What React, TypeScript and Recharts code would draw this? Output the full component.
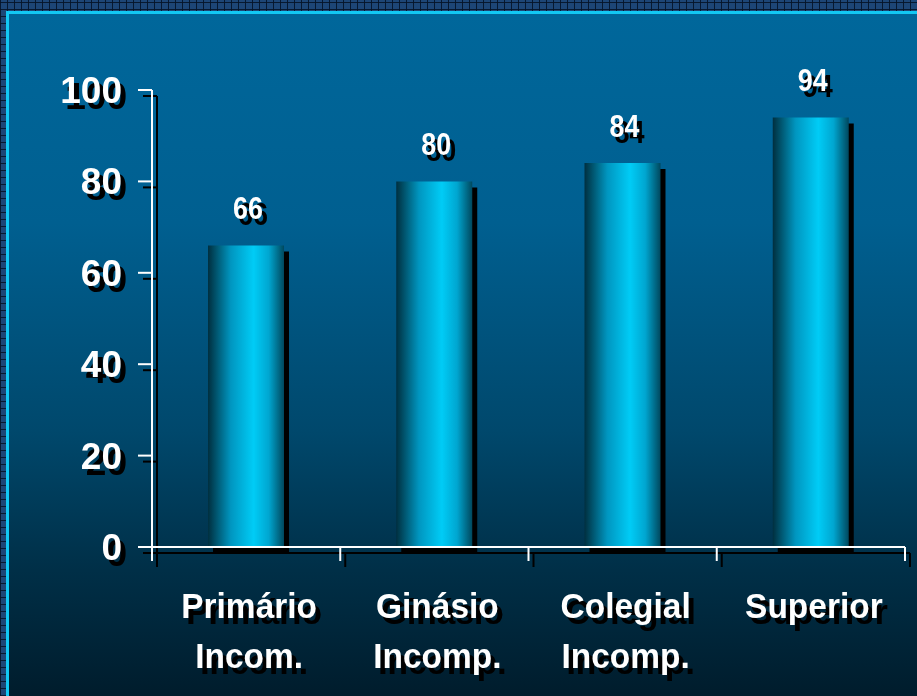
import React from "react";
import { BarChart, Bar, XAxis, YAxis, LabelList } from "recharts";

const categories = ["Primário", "Ginásio", "Colegial", "Superior"];
const categoryLine2 = ["Incom.", "Incomp.", "Incomp.", ""];
const values = [66, 80, 84, 94];
const yTicks = [0, 20, 40, 60, 80, 100];

const data = categories.map((c, i) => ({ name: c, sub: categoryLine2[i], value: values[i] }));

const FONT = "'Liberation Sans', Arial, sans-serif";

function CategoryTick(props: any) {
    const { x, y, payload, index } = props;
    const half = payload?.offset || 94;
    const last = index === data.length - 1;
    const row = data[index] || { name: payload.value, sub: "" };
    return (
        <g>
            <line x1={x - half} x2={x - half} y1={y} y2={y + 14} stroke="#fff" strokeWidth={2} />
            {last && <line x1={x + half} x2={x + half} y1={y} y2={y + 14} stroke="#fff" strokeWidth={2} />}
            <g transform={`translate(${x + 3},${y + 71}) scale(0.93,1)`}>
                <text x={0} y={0} textAnchor="middle" fill="#fff" fontSize={36} fontWeight="bold" fontFamily={FONT}>
                    {row.name}
                </text>
                {row.sub && (
                    <text x={0} y={50} textAnchor="middle" fill="#fff" fontSize={36} fontWeight="bold" fontFamily={FONT}>
                        {row.sub}
                    </text>
                )}
            </g>
        </g>
    );
}

function YTick(props: any) {
    const { x, y, payload } = props;
    return (
        <text x={x} y={y + 13} textAnchor="end" fill="#fff" fontSize={37} fontWeight="bold" fontFamily={FONT}>
            {payload.value}
        </text>
    );
}

function ValueLabel(props: any) {
    const { x, y, width, value } = props;
    return (
        <g transform={`translate(${x + width / 2 + 2},${y - 26}) scale(0.84,1)`}>
            <text x={0} y={0} textAnchor="middle" fill="#fff" fontSize={32} fontWeight="bold" fontFamily={FONT}>
                {value}
            </text>
        </g>
    );
}

export default function App() {
    return (
        <div
            style={{
                position: "absolute",
                left: 0,
                top: 0,
                width: 917,
                height: 696,
                overflow: "hidden",
                background:
                    "repeating-linear-gradient(90deg, rgba(5,20,40,0.9) 0 1px, transparent 1px 7px), repeating-linear-gradient(0deg, rgba(5,20,40,0.9) 0 1px, transparent 1px 7px), #1d4676",
            }}
        >
            <div
                style={{
                    position: "absolute",
                    left: 6,
                    top: 11,
                    width: 917,
                    height: 696,
                    borderTop: "3px solid #12c8f4",
                    borderLeft: "3px solid #12c8f4",
                    background: "linear-gradient(180deg, #00679b 0%, #005f90 30%, #00486c 60%, #002f47 80%, #001a29 100%)",
                }}
            />
            <div style={{ position: "absolute", left: 0, top: 0 }}>
                <BarChart
                    width={917}
                    height={696}
                    data={data}
                    margin={{ top: 90, right: 12, bottom: 0, left: 0 }}
                    style={{ filter: "drop-shadow(5px 6px 0 #000)" }}
                >
                    <defs>
                        <linearGradient id="barGrad" x1="0" y1="0" x2="1" y2="0">
                            <stop offset="0%" stopColor="#002f3f" />
                            <stop offset="30%" stopColor="#0096c0" />
                            <stop offset="60%" stopColor="#00ccf6" />
                            <stop offset="80%" stopColor="#00a6d0" />
                            <stop offset="100%" stopColor="#00485e" />
                        </linearGradient>
                    </defs>
                    <XAxis
                        dataKey="name"
                        height={149}
                        axisLine={{ stroke: "#fff", strokeWidth: 2 }}
                        tickLine={false}
                        tickSize={0}
                        tickMargin={0}
                        interval={0}
                        tick={<CategoryTick />}
                    />
                    <YAxis
                        width={152}
                        domain={[0, 100]}
                        ticks={yTicks}
                        interval={0}
                        axisLine={{ stroke: "#fff", strokeWidth: 2 }}
                        tickLine={{ stroke: "#fff", strokeWidth: 2 }}
                        tickSize={14}
                        tickMargin={16}
                        tick={<YTick />}
                    />
                    <Bar dataKey="value" barSize={76} fill="url(#barGrad)" isAnimationActive={false}>
                        <LabelList dataKey="value" content={<ValueLabel />} />
                    </Bar>
                </BarChart>
            </div>
        </div>
    );
}
